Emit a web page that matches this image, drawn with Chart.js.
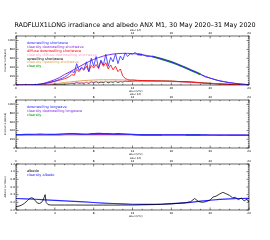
<!DOCTYPE html>
<html lang="en">
<head>
  <meta charset="UTF-8">
  <title>RADFLUX1LONG ANX M1</title>
  <script src="https://cdn.jsdelivr.net/npm/chart.js"></script>
  <style>
    body { margin: 0; background: #fff; width: 270px; height: 240px; overflow: hidden; position: relative; font-family: "DejaVu Sans", sans-serif; }
    .pnl { position: absolute; left: 0; }
  </style>
</head>
<body>
  <canvas id="ttl" class="pnl" style="top:18px" width="270" height="14"></canvas>
  <canvas id="sw" class="pnl" style="top:24px" width="270" height="73"></canvas>
  <canvas id="lw" class="pnl" style="top:88px" width="270" height="72"></canvas>
  <canvas id="alb" class="pnl" style="top:152px" width="270" height="70"></canvas>

  <script>
    const titleText = 'RADFLUX1LONG irradiance and albedo ANX M1, 30 May 2020–31 May 2020';

    // hours (UTC)
    const hoursHalf = [0,0.5,1,1.5,2,2.5,3,3.5,4,4.5,5,5.5,6,6.5,7,7.5,8,8.5,9,9.5,10,10.5,11,11.5,12,12.5,13,13.5,14,14.5,15,15.5,16,16.5,17,17.5,18,18.5,19,19.5,20,20.5,21,21.5,22,22.5,23,23.5,24];
    const hoursFull = [0,1,2,3,4,5,6,7,8,9,10,11,12,13,14,15,16,17,18,19,20,21,22,23,24];
    const tSW = [0,0.5,1,1.5,2,2.5,3,3.5,4,
      4.25,4.5,4.75,5,5.25,5.5,5.75,6,6.25,6.5,6.75,7,7.25,7.5,7.75,8,8.25,8.5,8.75,9,9.25,9.5,9.75,10,10.25,10.5,10.75,11,11.25,11.5,11.75,12,12.25,12.5,
      13,13.5,14,14.5,15,15.5,16,16.5,17,17.5,18,18.5,19,19.5,20,20.5,21,21.5,22,22.5,23,23.5,24];
    const tAlb = [0,0.3,0.6,0.9,1.2,1.4,1.6,1.8,2.0,2.2,2.4,2.6,2.8,2.9,3.0,3.1,3.3,3.6,4,5,6,7,8,9,10,11,12,13,14,15,16,17,17.5,18,18.4,18.8,19.2,19.6,20,20.3,20.6,21,21.3,21.6,22,22.3,22.6,22.9,23.2,23.5,23.8,24];

    // shortwave (W/m2)
    const downSW = [0,0,0,2,8,18,38,60,90,
      105,130,150,175,210,260,300,280,480,330,400,350,520,300,600,420,640,380,560,450,690,420,620,520,700,480,650,560,720,640,700,690,730,690,
      680,640,643,615,585,550,515,475,430,385,335,290,240,180,155,120,92,72,52,38,25,15,8];
    const clearDownSW = [0,0,0,2,8,20,45,80,120,170,235,290,350,410,470,525,575,615,650,675,695,705,710,710,705,695,680,662,643,615,585,550,515,475,430,385,335,290,240,195,155,120,92,72,52,38,25,15,8];
    const diffSW = [0,0,0,2,8,18,35,55,80,
      95,110,125,140,160,190,230,220,350,300,380,330,420,300,440,380,460,370,530,420,500,360,450,340,420,300,360,200,150,120,110,115,110,105,
      100,98,95,92,90,88,85,80,75,70,62,55,48,40,33,27,22,17,12,9,6,4,2];
    const clearDiffSW = [0,0,0,1,3,6,10,15,20,26,32,38,44,50,56,62,67,72,76,80,83,86,88,90,90,90,89,88,86,84,81,78,75,71,67,62,57,52,47,42,37,32,27,23,19,15,12,9,7];
    const upSW = [0,0,0,0,2,4,8,8,11,
      13,16,18,21,25,31,36,34,58,40,48,42,62,36,72,50,77,46,67,54,83,50,74,62,84,58,78,67,86,77,84,83,90,88,
      90,88,90,88,87,86,84,80,75,70,65,60,52,40,37,31,26,21,15,11,7,4,2];
    const clearUpSW = [0,0,0,0.6,2.3,5.6,12,21,30,41,56,67,79,89,99,106,112,116,117,117,118,116,114,110,106,102,99,96,93,90,88,86,85,82,77,73,67,62,55,48,40,33,25,20,15,11,7.5,4.5,2.4];
    const clearFlagSW = [null,null,null,null,null,null,null,null,null,null,null,null,null,null,null,null,null,null,null,null,null,null,null,null,null,
      690,680,null,643,615,585,550,515,475,430,385,335,290,240,null,null,null,null,null,null,null,null,null,null];

    // longwave (W/m2)
    const downLW = [305,308,310,312,315,318,315,312,310,318,325,330,328,322,318,322,330,335,332,328,325,330,325,318,310,305,303,302,303,302,301,300,300,299,300,301,300,300,300,299,298,298,297,298,297,296,296,295,295];
    const clearDownLW = [300,300,301,301,302,302,302,303,303,303,304,304,304,305,305,305,305,305,305,305,305,305,305,305,304,304,303,303,302,302,301,301,300,300,299,299,298,298,297,297,296,296,295,295,294,294,293,293,292];
    const clearFlagLW = [null,null,null,null,null,null,null,null,null,null,null,null,null,null,null,null,null,null,null,null,null,null,null,null,
      310,305,303,302,303,302,301,null,null,null,null,301,300,300,300,null,null,null,null,null,null,null,null,null,null];

    // albedo
    const albedo = [0.09,0.10,0.13,0.18,0.25,0.30,0.32,0.30,0.24,0.18,0.17,0.19,0.26,0.33,0.40,0.20,0.14,0.13,0.13,0.13,0.13,0.128,0.128,0.128,0.128,0.13,0.13,0.135,0.14,0.15,0.16,0.18,0.19,0.22,0.30,0.22,0.20,0.22,0.26,0.34,0.36,0.42,0.46,0.43,0.38,0.32,0.33,0.27,0.31,0.24,0.28,0.20];
    const clearAlb = [0.30,0.29,0.28,0.265,0.25,0.24,0.225,0.21,0.195,0.18,0.17,0.16,0.15,0.145,0.145,0.15,0.165,0.18,0.20,0.23,0.255,0.275,0.29,0.30,0.305];

    const hourTicks = [0,4,8,12,16,20,24];

    Chart.defaults.font.family = "'DejaVu Sans', sans-serif";
    Chart.defaults.color = '#000';

    // plot title, drawn on a canvas to keep it plain grey-scale
    const tc = document.getElementById('ttl').getContext('2d');
    tc.font = '6.4px "DejaVu Sans"';
    tc.fillStyle = '#000';
    tc.textAlign = 'center';
    tc.textBaseline = 'middle';
    tc.fillText(titleText, 135, 7);

    function pts(xs, ys) {
      return xs.map((x, i) => ({ x: x, y: ys[i] }));
    }

    function line(label, xs, ys, color, width) {
      return { label: label, data: pts(xs, ys), borderColor: color, borderWidth: width || 0.8,
               pointRadius: 0, fill: false, tension: 0, spanGaps: false };
    }

    // box, inward ticks, legend text and axis titles
    const frame = {
      id: 'frame',
      afterDatasetsDraw(chart) {
        const o = chart.options.plugins.frame;
        const ctx = chart.ctx, a = chart.chartArea, x = chart.scales.x, y = chart.scales.y;
        ctx.save();
        ctx.strokeStyle = '#000';
        ctx.lineWidth = 0.5;
        ctx.beginPath();
        for (let h = 0; h <= 24; h++) {
          const px = x.getPixelForValue(h), L = h % 4 === 0 ? 2.5 : 1.2;
          ctx.moveTo(px, a.bottom); ctx.lineTo(px, a.bottom - L);
          ctx.moveTo(px, a.top); ctx.lineTo(px, a.top + L);
        }
        const n = Math.round((y.max - y.min) / o.minor);
        for (let i = 0; i <= n; i++) {
          const py = y.getPixelForValue(y.min + i * o.minor), L = i % o.every === 0 ? 2.5 : 1.2;
          ctx.moveTo(a.left, py); ctx.lineTo(a.left + L, py);
          ctx.moveTo(a.right, py); ctx.lineTo(a.right - L, py);
        }
        ctx.stroke();
        ctx.lineWidth = 0.6;
        ctx.strokeRect(a.left, a.top, a.right - a.left, a.bottom - a.top);

        ctx.font = '3.5px "DejaVu Sans"';
        ctx.textBaseline = 'middle';
        ctx.textAlign = 'left';
        chart.data.datasets.forEach((d, i) => {
          ctx.fillStyle = d.borderColor;
          ctx.fillText(d.label, a.left + 11, a.top + 7 + i * 3.9);
        });

        ctx.fillStyle = '#000';
        ctx.font = '2.5px "DejaVu Sans"';
        ctx.textAlign = 'center';
        const cx = (a.left + a.right) / 2 + 3;
        ctx.fillText('Hour (LT)', cx, a.top - 6);
        ctx.fillText('Hour (UTC)', cx, a.bottom + 6);
        ctx.translate(5, (a.top + a.bottom) / 2);
        ctx.rotate(-Math.PI / 2);
        ctx.fillText(o.yTitle, 0, 0);
        ctx.restore();
      }
    };

    function xAxis(pos) {
      return {
        type: 'linear', position: pos, min: 0, max: 24,
        afterBuildTicks: s => { s.ticks = hourTicks.map(v => ({ value: v })); },
        ticks: { font: { size: 2.8 }, padding: 1.2, maxRotation: 0, autoSkip: false },
        grid: { display: false, drawTicks: false },
        border: { display: false },
        afterFit: s => { s.height = 12; }
      };
    }

    function panel(id, datasets, yMin, yMax, yStep, minor, every, yTitle, fmt) {
      new Chart(document.getElementById(id), {
        type: 'line',
        data: { datasets: datasets },
        options: {
          responsive: false,
          animation: false,
          events: [],
          layout: { padding: { left: 0, right: 21, top: 0, bottom: 0 } },
          scales: {
            x: xAxis('bottom'),
            x2: xAxis('top'),
            y: {
              min: yMin, max: yMax,
              ticks: { stepSize: yStep, includeBounds: false, font: { size: 2.8 }, padding: 1, callback: fmt },
              grid: { display: false, drawTicks: false },
              border: { display: false },
              afterFit: s => { s.width = 16; }
            }
          },
          plugins: {
            legend: { display: false },
            tooltip: { enabled: false },
            frame: { minor: minor, every: every, yTitle: yTitle }
          }
        },
        plugins: [frame]
      });
    }

    const intFmt = v => String(Math.round(v));

    panel('sw', [
      line('downwelling shortwave', tSW, downSW, '#2b2bff', 0.8),
      line('clearsky downwelling shortwave', hoursHalf, clearDownSW, '#8a2be2', 1.0),
      line('diffuse downwelling shortwave', tSW, diffSW, '#ff0000', 0.8),
      line('clearsky diffuse downwelling shortwave', hoursHalf, clearDiffSW, '#ff9ec8', 0.8),
      line('upwelling shortwave', tSW, upSW, '#000000', 0.8),
      line('clearsky upwelling shortwave', hoursHalf, clearUpSW, '#e0a45a', 1.0),
      line('clearsky', hoursHalf, clearFlagSW, '#00a000', 2.0)
    ], 0, 1100, 200, 50, 4, 'Irradiance (W/m2)', intFmt);

    panel('lw', [
      line('downwelling longwave', hoursHalf, downLW, '#2b2bff', 1.2),
      line('clearsky downwelling longwave', hoursHalf, clearDownLW, '#8a2be2', 1.2),
      line('clearsky', hoursHalf, clearFlagLW, '#00a000', 1.6)
    ], 0, 1100, 200, 50, 4, 'Irradiance (W/m2)', intFmt);

    panel('alb', [
      line('albedo', tAlb, albedo, '#000000', 0.8),
      line('clearsky albedo', hoursFull, clearAlb, '#2b2bff', 1.2)
    ], 0, 1.2, 0.2, 0.05, 4, 'Albedo (unitless)', v => v.toFixed(1));
  </script>
</body>
</html>
